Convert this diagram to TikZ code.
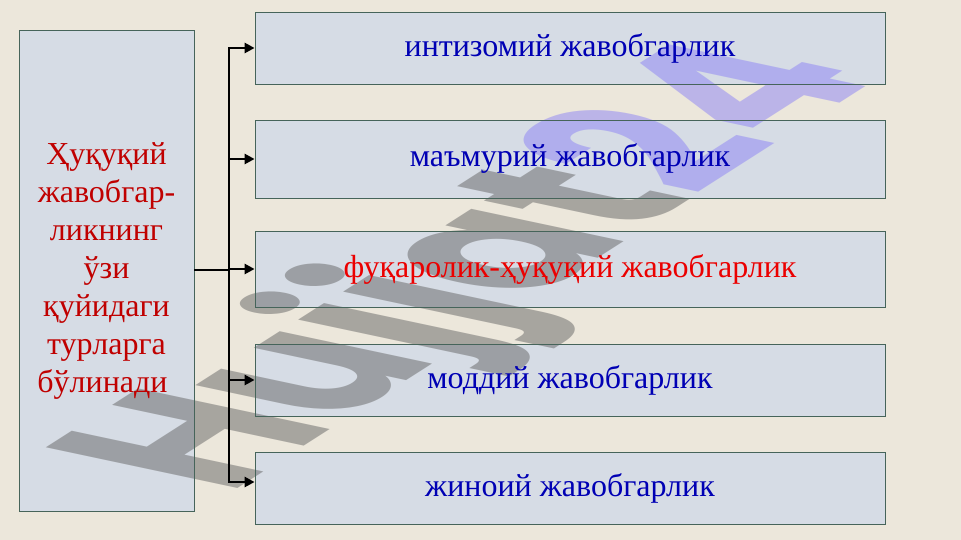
\documentclass[tikz,border=0pt]{standalone}
\usepackage{fontspec}
\setmainfont{Liberation Serif}
\newfontfamily\markfont{Poppins}
\usepackage{tikz}
\usetikzlibrary{arrows.meta}
\definecolor{paper}{RGB}{236,231,219}
\definecolor{boxfill}{RGB}{214,220,229}
\definecolor{boxline}{RGB}{70,100,90}
\definecolor{kindblue}{RGB}{0,0,180}
\definecolor{kindred}{RGB}{235,0,0}
\definecolor{mainred}{RGB}{192,0,0}
\definecolor{markgray}{RGB}{100,100,100}
\definecolor{markviolet}{RGB}{140,130,245}
\pgfdeclarelayer{fills}
\pgfdeclarelayer{mark}
\pgfsetlayers{fills,mark,main}

\begin{document}
\begin{tikzpicture}[x=1pt,y=-1pt]
      \tikzstyle{every node}=[font=\fontsize{32}{38}\selectfont]
      \tikzstyle{kind}=[rectangle,draw=boxline,line width=0.8pt,inner sep=0pt,minimum width=630pt,text=kindblue]
      \tikzstyle{link}=[line width=2.8pt]
      \tikzstyle{branch}=[link,-{Triangle[length=10pt,width=10pt]}]
      \useasboundingbox (0,0) rectangle (961,540);
      % left box
      \node[kind,minimum width=175pt,minimum height=481pt,text=mainred,align=center] (main) at (106.5,270.5)
        {Ҳуқуқий\\жавобгар-\\ликнинг\\ўзи\\қуйидаги\\турларга\\бўлинади\hspace*{0.25em}};
      % right boxes
      \node[kind,minimum height=72pt] (b1) at (570,48) {интизомий жавобгарлик};
      \node[kind,minimum height=78pt] (b2) at (570,159) {маъмурий жавобгарлик};
      \node[kind,minimum height=76pt,text=kindred] (b3) at (570,269) {фуқаролик-ҳуқуқий жавобгарлик};
      \node[kind,minimum height=72pt] (b4) at (570,380) {моддий жавобгарлик};
      \node[kind,minimum height=72pt] (b5) at (570,488) {жиноий жавобгарлик};
      % paper and box fills, under everything
      \begin{pgfonlayer}{fills}
        \fill[paper] (0,0) rectangle (961,540);
        \foreach \nd in {main,b1,b2,b3,b4,b5}
          \fill[boxfill] (\nd.north west) rectangle (\nd.south east);
      \end{pgfonlayer}
      % connectors
      \coordinate (fork) at (229,270);
      \coordinate (last) at ([yshift=6pt]b5.west);
      \draw[link] (main.east |- fork) -- (fork);
      \draw[link,line cap=rect] (fork |- b1.west) -- (fork |- last);
      \draw[branch] (fork |- b1.west) -- (b1.west);
      \draw[branch] (fork |- b2.west) -- (b2.west);
      \draw[branch] (fork |- b3.west) -- (b3.west);
      \draw[branch] (fork |- b4.west) -- (b4.west);
      \draw[branch] (fork |- last) -- (last);
      % watermark, slanted and stretched
      \begin{pgfonlayer}{mark}
        \node[cm={1.517,0.970,-2.73,0.58,(0,0)},anchor=base west,inner sep=0pt,opacity=.5,
              font=\markfont\bfseries\fontsize{100}{100}\selectfont] (mark) at (228,495)
          {\textcolor{markgray}{Hujjat}\textcolor{markviolet}{24}};
      \end{pgfonlayer}
\end{tikzpicture}
\end{document}
